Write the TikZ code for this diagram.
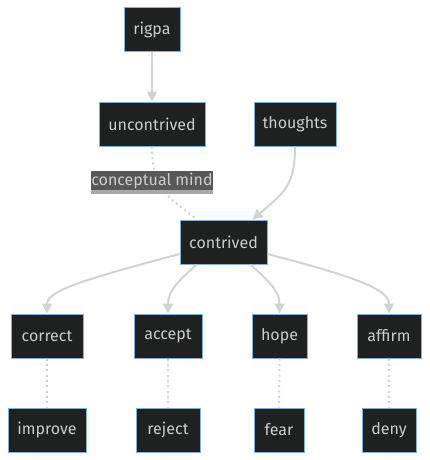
\documentclass[tikz,border=0pt]{standalone}
\usepackage{fontspec}
\setmainfont{Fira Sans}
\usetikzlibrary{arrows.meta,calc}
\definecolor{nodefill}{HTML}{1F2020}
\definecolor{nodeline}{HTML}{81B1DB}
\definecolor{nodetext}{HTML}{CCCCCC}
\definecolor{edgecol}{HTML}{D3D3D3}
\definecolor{lblfill}{HTML}{585858}
\definecolor{lblband}{HTML}{A8A8A8}
\begin{document}
\begin{tikzpicture}[x=0.75pt,y=-0.75pt,
  box/.style={draw=nodeline,fill=nodefill,text=nodetext,line width=0.75pt,
    minimum height=33pt,inner sep=0pt,font=\fontsize{12}{14}\selectfont},
  arr/.style={draw=edgecol,line width=1.5pt,-{Triangle[length=7.5pt,width=7.5pt]}},
  dotline/.style={draw=edgecol,line width=1.5pt,dash pattern=on 1.5pt off 2.5pt},
  lbl/.style={fill=lblfill,text=nodetext,inner sep=0pt,minimum height=14.25pt,
    minimum width=90pt,font=\fontsize{12}{14}\selectfont}]
\useasboundingbox (0,0) rectangle (429,460);
\fill[white] (0,0) rectangle (429,460);
% nodes
\node[box,minimum width=42pt] (rigpa) at (152,30) {rigpa};
\node[box,minimum width=79.5pt] (uncontrived) at (152,124) {uncontrived};
\node[box,minimum width=61.5pt] (thoughts) at (295,124) {thoughts};
\node[box,minimum width=65.25pt] (contrived) at (223.5,242) {contrived};
\node[box,minimum width=54pt] (correct) at (47,336) {correct};
\node[box,minimum width=51pt] (accept) at (168,336) {accept};
\node[box,minimum width=41.25pt] (hope) at (279.5,336) {hope};
\node[box,minimum width=48pt] (affirm) at (389,336) {affirm};
\node[box,minimum width=58.5pt] (improve) at (47,430) {improve};
\node[box,minimum width=48pt] (reject) at (168,430) {reject};
\node[box,minimum width=37.5pt] (fear) at (279,430) {fear};
\node[box,minimum width=40.5pt] (deny) at (389,430) {deny};
% edges
\draw[arr] (rigpa) -- (uncontrived);
\draw[dotline] (uncontrived.south) .. controls (152,195) and (175,200) .. ($(contrived.north west)+(17,0)$);
\node[lbl] (cm) at (152,180.5) {conceptual mind};
\fill[lblband] (cm.south west) rectangle ($(cm.south east)+(0,4)$);
\draw[arr] (thoughts.south) .. controls (295,185) and (285,192) .. ($(contrived.north east)+(-15,0)$);
\draw[arr] ($(contrived.west)+(0,12)$) .. controls (90,278) and (47,290) .. (correct.north);
\draw[arr] ($(contrived.south west)+(17,0)$) .. controls (180,280) and (168,290) .. (accept.north);
\draw[arr] ($(contrived.south east)+(-17,0)$) .. controls (267,280) and (279.5,290) .. (hope.north);
\draw[arr] ($(contrived.east)+(0,12)$) .. controls (360,278) and (389,290) .. (affirm.north);
\draw[dotline] (correct) -- (improve);
\draw[dotline] (accept) -- (reject);
\draw[dotline] (hope.south) -- (fear.north);
\draw[dotline] (affirm) -- (deny);
\end{tikzpicture}
\end{document}
